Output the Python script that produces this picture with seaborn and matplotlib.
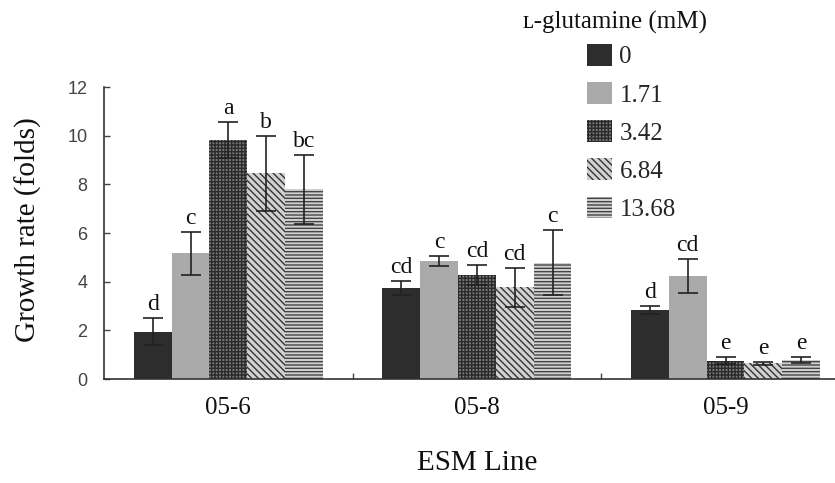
import numpy as np
import pandas as pd
import matplotlib
matplotlib.use("Agg")
import matplotlib.pyplot as plt
import seaborn as sns

# data
lines = ["05-6", "05-8", "05-9"]
concs = ["0", "1.71", "3.42", "6.84", "13.68"]
rate_056 = [1.95, 5.17, 9.82, 8.45, 7.80]
rate_058 = [3.75, 4.85, 4.27, 3.77, 4.78]
rate_059 = [2.84, 4.23, 0.75, 0.64, 0.78]
err_056 = [0.55, 0.88, 0.75, 1.55, 1.42]
err_058 = [0.28, 0.21, 0.42, 0.80, 1.33]
err_059 = [0.18, 0.70, 0.15, 0.07, 0.13]
letters_056 = ["d", "c", "a", "b", "bc"]
letters_058 = ["cd", "c", "cd", "cd", "c"]
letters_059 = ["d", "cd", "e", "e", "e"]

rates = [rate_056, rate_058, rate_059]
errs = [err_056, err_058, err_059]
letters = [letters_056, letters_058, letters_059]

rows = []
for i, ln in enumerate(lines):
    for j, c in enumerate(concs):
        rows.append({"line": ln, "conc": c, "rate": rates[i][j],
                     "err": errs[i][j], "letter": letters[i][j]})
df = pd.DataFrame(rows)

sns.set_style("white")
plt.rcParams["font.family"] = "serif"
plt.rcParams["font.serif"] = ["Liberation Serif", "DejaVu Serif"]
plt.rcParams["hatch.linewidth"] = 1.0

SERIF = ["Liberation Serif", "DejaVu Serif"]

fig = plt.figure(figsize=(8.35, 4.83), dpi=100)
ax = fig.add_axes([104 / 835, 104 / 483, 731 / 835, 292 / 483])

face = ["#2d2d2d", "#aaaaaa", "#7a7a7a", "#d2d2d2", "#d0d0d0"]
hatch_col = ["#2d2d2d", "#aaaaaa", "#2a2a2a", "#333333", "#444444"]
hatches = [None, None, "+++++", "\\\\\\\\\\", "-----"]

sns.barplot(data=df, x="line", y="rate", hue="conc", order=lines,
            hue_order=concs, errorbar=None, width=0.76, palette=face,
            saturation=1, ax=ax, legend=True)

# style bars by hue group, then error bars + letters
bar_conts = list(ax.containers)
for j, cont in enumerate(bar_conts):
    for i, bar in enumerate(cont):
        bar.set_facecolor(face[j])
        bar.set_edgecolor(hatch_col[j])
        bar.set_linewidth(0)
        if hatches[j]:
            bar.set_hatch(hatches[j])
        x = bar.get_x() + bar.get_width() / 2
        h = bar.get_height()
        e = errs[i][j]
        ax.errorbar(x, h, yerr=e, fmt="none", ecolor="#222222",
                    elinewidth=1.2, capsize=7, capthick=1.2, zorder=5)
        ax.text(x, h + e + 0.12, letters[i][j], ha="center", va="bottom",
                fontsize=17, family=SERIF, color="#111111")

ax.set_ylim(0, 12)
ax.set_xlim(-0.5, 2.44)
ax.set_yticks(np.arange(0, 13, 2))
ax.tick_params(axis="y", direction="in", length=4, width=1, color="#444444",
               pad=12, labelsize=13, labelcolor="#444444", left=True)
for t in ax.get_yticklabels():
    t.set_family(["Liberation Sans", "DejaVu Sans"])
ax.tick_params(axis="x", length=0, pad=13, labelsize=18, labelcolor="#111111")
for t in ax.get_xticklabels():
    t.set_family(SERIF)
ax.set_xticks([0.5, 1.5], minor=True)
ax.tick_params(axis="x", which="minor", direction="in", length=4, width=1,
               color="#444444", bottom=True)

for s in ["top", "right"]:
    ax.spines[s].set_visible(False)
for s in ["left", "bottom"]:
    ax.spines[s].set_color("#333333")
    ax.spines[s].set_linewidth(1.2)

ax.set_xlabel("ESM Line", fontsize=21, family=SERIF, color="#111111")
ax.set_ylabel("Growth rate (folds)", fontsize=21, family=SERIF,
              color="#111111")
ax.xaxis.set_label_coords(0.51, -0.243)
ax.yaxis.set_label_coords(-0.085, 0.51)

handles, labels = ax.get_legend_handles_labels()
for j, hd in enumerate(handles):
    hd.set_facecolor(face[j])
    hd.set_edgecolor(hatch_col[j])
    hd.set_linewidth(0)
    if hatches[j]:
        hd.set_hatch(hatches[j])
ax.legend(handles, labels, loc="upper left",
          bbox_to_anchor=(587 / 835, 1 - 44 / 483), bbox_transform=fig.transFigure,
          frameon=False, prop={"family": SERIF, "size": 18},
          handlelength=1.0, handleheight=0.95, handletextpad=0.3,
          labelspacing=0.55, borderpad=0, borderaxespad=0)
fig.text(615 / 835, 1 - 22 / 483, "ʟ-glutamine (mM)", ha="center", va="center",
         fontsize=18, family=SERIF, color="#111111")

fig.savefig("out.png", dpi=100)
